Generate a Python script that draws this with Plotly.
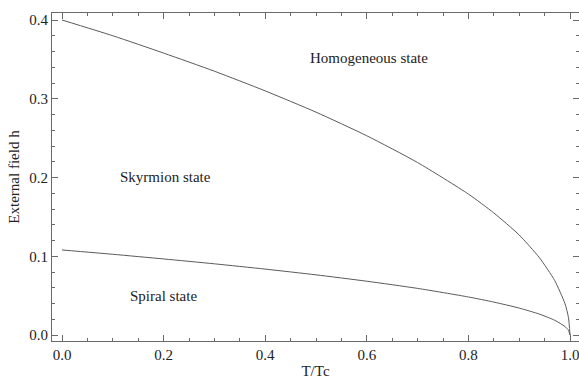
import plotly.graph_objects as go

# Reduced temperature T/Tc
t_vals = [0.0, 0.1, 0.2, 0.3, 0.4, 0.5, 0.6, 0.7, 0.8, 0.85, 0.9, 0.94, 0.97, 0.99, 0.997, 1.0]
# Upper boundary: skyrmion / homogeneous
h_upper = [0.400, 0.380, 0.358, 0.335, 0.310, 0.283, 0.253, 0.219, 0.179, 0.155, 0.127,
           0.098, 0.069, 0.040, 0.022, 0.0]
# Lower boundary: spiral / skyrmion
h_lower = [0.108, 0.1025, 0.0966, 0.0904, 0.0837, 0.0764, 0.0683, 0.0592, 0.0483, 0.0418,
           0.0342, 0.0265, 0.0187, 0.0108, 0.0060, 0.0]

labels = ["Homogeneous state", "Skyrmion state", "Spiral state"]
label_x = [0.604, 0.204, 0.200]
label_y = [0.352, 0.201, 0.050]

FONT = "Liberation Serif"
LINE = "#5a5a5a"
AX = "#6a6a6a"
TXT = "#222222"

fig = go.Figure()
fig.add_trace(go.Scatter(x=t_vals, y=h_upper, mode="lines",
                         line=dict(color=LINE, width=1, shape="spline", smoothing=0.6), showlegend=False))
fig.add_trace(go.Scatter(x=t_vals, y=h_lower, mode="lines",
                         line=dict(color=LINE, width=1, shape="spline", smoothing=0.6), showlegend=False))

for txt, xx, yy in zip(labels, label_x, label_y):
    fig.add_annotation(x=xx, y=yy, text=txt, showarrow=False,
                       font=dict(family=FONT, size=15, color=TXT))

axis_common = dict(
    showline=True, linecolor=AX, linewidth=1, mirror="allticks",
    ticks="inside", ticklen=6, tickcolor=AX, tickwidth=1,
    showgrid=False, zeroline=False, ticklabeloverflow="allow",
    tickfont=dict(family=FONT, size=15, color=TXT),
)

fig.update_xaxes(range=[-0.0197, 1.0177], tick0=0, dtick=0.2, tickformat=".1f",
                 minor=dict(ticks="inside", ticklen=3, dtick=0.05, tickcolor=AX, showgrid=False),
                 title=dict(text="T/Tc", font=dict(family=FONT, size=15, color=TXT), standoff=6),
                 **axis_common)
fig.update_yaxes(range=[-0.0076, 0.4089], tick0=0, dtick=0.1, tickformat=".1f",
                 minor=dict(ticks="inside", ticklen=3, dtick=0.02, tickcolor=AX, showgrid=False),
                 title=dict(text="External field h", font=dict(family=FONT, size=15, color=TXT), standoff=6),
                 **axis_common)

fig.update_layout(
    width=579, height=379,
    margin=dict(l=52, r=0, t=13, b=38),
    paper_bgcolor="white", plot_bgcolor="white",
)

fig.write_html("out.html")
